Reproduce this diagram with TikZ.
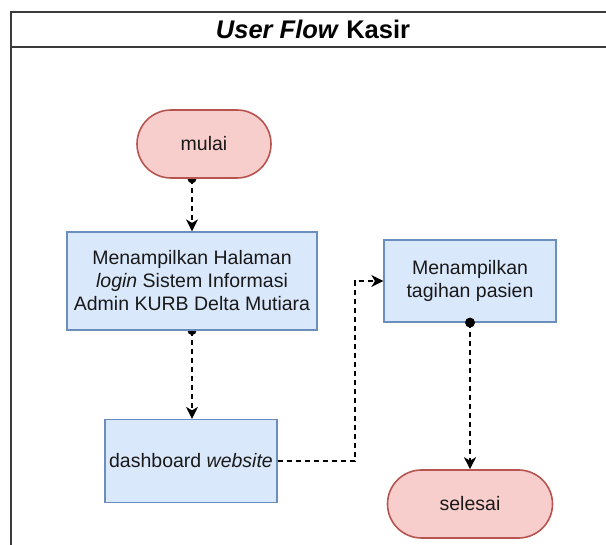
\documentclass[tikz,border=0pt]{standalone}
\usepackage{fontspec}
\setmainfont{Liberation Sans}
\usetikzlibrary{arrows.meta,positioning}
\definecolor{merahisi}{HTML}{F8CECC}
\definecolor{merahgaris}{HTML}{B85450}
\definecolor{biruisi}{HTML}{DAE8FC}
\definecolor{birugaris}{HTML}{6C8EBF}
\definecolor{bingkai}{HTML}{3C3C3C}
\pgfdeclarelayer{bawah}
\pgfsetlayers{bawah,main}
\tikzset{
  teks/.style={font=\fontsize{19.5}{23}\selectfont, text=black!90},
  terminal/.style={teks, draw=merahgaris, fill=merahisi, line width=1.6pt,
    rounded corners=34pt, minimum width=134pt, minimum height=68pt},
  proses/.style={teks, draw=birugaris, fill=biruisi, line width=1.2pt,
    align=center, inner sep=0pt},
  alur/.style={line width=1.5pt, dash pattern=on 5.5pt off 3.5pt,
    -{Stealth[length=12pt,width=12pt,inset=3.5pt]}},
}
\begin{document}
\begin{tikzpicture}[x=1pt,y=-1pt]
\useasboundingbox (0,0) rectangle (606,545);
% bingkai
\draw[bingkai, line width=1.4pt] (11,560) -- (11,12) -- (620,12);
\draw[bingkai, line width=2.2pt] (11,47) -- (620,47);
\node (judul) at (313,29.5) {\fontsize{25.5}{30}\selectfont\bfseries\textit{User Flow} Kasir};
% node
\node[terminal] (mulai) at (204,144) {mulai};
\node[proses, minimum width=250pt, minimum height=98pt] (halaman) at (192,281)
  {Menampilkan Halaman\\\textit{login} Sistem Informasi\\Admin KURB Delta Mutiara};
\node[proses, minimum width=172pt, minimum height=83pt] (dashboard) at (191,461)
  {dashboard \textit{website}};
\node[proses, minimum width=172pt, minimum height=82pt] (tagihan) at (470,281)
  {Menampilkan\\tagihan pasien};
\node[terminal, minimum width=165pt] (selesai) at (470,504) {selesai};
\coordinate (belok) at (355,461);
% alur
\begin{pgfonlayer}{bawah}
\fill (halaman.north |- mulai.south) circle (4.5pt);
\draw[alur] (halaman.north |- mulai.south) -- (halaman.north);
\fill (halaman.south) circle (4.5pt);
\draw[alur] (halaman.south) -- (dashboard.north -| halaman.south);
\end{pgfonlayer}
\draw[alur] (dashboard.east) -- (belok) |- (tagihan.west);
\fill (tagihan.south) circle (5pt);
\draw[alur] (tagihan.south) -- (selesai.north);
\end{tikzpicture}
\end{document}
